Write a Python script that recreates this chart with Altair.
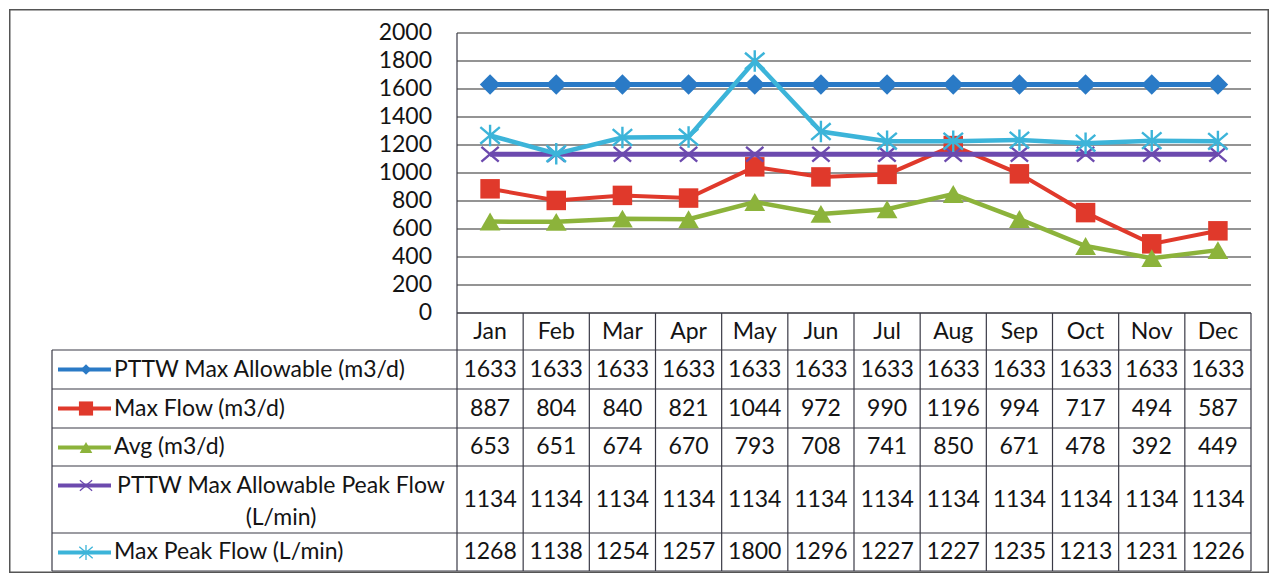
import altair as alt
import pandas as pd

# ---------------- data ----------------
months = ["Jan", "Feb", "Mar", "Apr", "May", "Jun", "Jul", "Aug", "Sep", "Oct", "Nov", "Dec"]
series_names = [
    "PTTW Max Allowable (m3/d)",
    "Max Flow (m3/d)",
    "Avg (m3/d)",
    "PTTW Max Allowable Peak Flow (L/min)",
    "Max Peak Flow (L/min)",
]
series_labels = [
    "PTTW Max Allowable (m3/d)",
    "Max Flow (m3/d)",
    "Avg (m3/d)",
    "PTTW Max Allowable Peak Flow\n(L/min)",
    "Max Peak Flow (L/min)",
]
pttw_max = [1633, 1633, 1633, 1633, 1633, 1633, 1633, 1633, 1633, 1633, 1633, 1633]
max_flow = [887, 804, 840, 821, 1044, 972, 990, 1196, 994, 717, 494, 587]
avg_flow = [653, 651, 674, 670, 793, 708, 741, 850, 671, 478, 392, 449]
pttw_peak = [1134, 1134, 1134, 1134, 1134, 1134, 1134, 1134, 1134, 1134, 1134, 1134]
max_peak = [1268, 1138, 1254, 1257, 1800, 1296, 1227, 1227, 1235, 1213, 1231, 1226]
series_values = [pttw_max, max_flow, avg_flow, pttw_peak, max_peak]
y_ticks = [0, 200, 400, 600, 800, 1000, 1200, 1400, 1600, 1800, 2000]

# ---------------- styles ----------------
X_PATH = "M-1,-0.85L1,0.85M-1,0.85L1,-0.85"
STAR_PATH = "M-1,-0.85L1,0.85M-1,0.85L1,-0.85M0,-1.1L0,1.1"
colors = ["#2A7AC6", "#E0392B", "#8CB33B", "#6C4AAE", "#3CB4D9"]
shapes = ["diamond", "square", "triangle-up", X_PATH, STAR_PATH]
filled = [True, True, True, False, False]
msize = [420, 380, 430, 300, 380]
mstroke = [1, 1, 1, 2.4, 2.4]
line_w = [5, 4, 4.5, 5, 4.5]
key_msize = [110, 200, 160, 150, 180]
key_stroke = [1, 1, 1, 1.3, 1.3]
FONT = "Lato"
FS = 23
TXT = "#141414"
GRID = "#2a2a2a"
TBL = "#3a3a46"

# ---------------- layout (px) ----------------
W = 1260
H1 = 304
H2 = 260
PLOT_L = 448
PLOT_R = 1242
Y2000_PX = 24
UNIT = (PLOT_R - PLOT_L) / 12.0


def u(px):
    return (px - PLOT_L) / UNIT


XMIN = u(0)
XMAX = u(W)
YMAX = 2000.0 * H1 / (H1 - Y2000_PX)
LEG_L = u(43)
KEY0 = u(49)
KEY1 = u(102)
KEYM = u(77)
LABEL_X = u(105)
LABEL_C = u(272)
row_h = [37, 39, 39, 38, 67, 38]
cum = [0]
for h in row_h:
    cum.append(cum[-1] + h)
FIRST_LINE = 19.5

xs = alt.Scale(domain=[XMIN, XMAX], nice=False, zero=False)
ys = alt.Scale(domain=[0, YMAX], nice=False, zero=False)
ts = alt.Scale(domain=[0, H2], nice=False, zero=False, reverse=True)

rows = []
for si, name in enumerate(series_names):
    for mi, m in enumerate(months):
        v = series_values[si][mi]
        rows.append({"series": name, "si": si, "month": m, "mi": mi, "value": v,
                     "x": mi + 0.5, "label": str(v)})
df = pd.DataFrame(rows)

one = pd.DataFrame({"a": [0]})

# ---------------- top chart ----------------
grid_df = pd.DataFrame({"tick": y_ticks, "x0": [0] * len(y_ticks), "x1": [12] * len(y_ticks),
                        "label": [str(t) for t in y_ticks]})
grid = alt.Chart(grid_df).mark_rule(color=GRID, strokeWidth=1.2).encode(
    x=alt.X("x0:Q", scale=xs, axis=None),
    x2="x1:Q",
    y=alt.Y("tick:Q", scale=ys, axis=None),
)
ylabels = alt.Chart(grid_df).mark_text(font=FONT, fontSize=FS, color=TXT, align="right",
                                       baseline="middle", dx=-25).encode(
    x=alt.X("x0:Q", scale=xs, axis=None),
    y=alt.Y("tick:Q", scale=ys, axis=None),
    text="label:N",
)
lb_df = pd.DataFrame({"x": [0], "y0": [0], "y1": [2000]})
left_border = alt.Chart(lb_df).mark_rule(color=TBL, strokeWidth=1.2).encode(
    x=alt.X("x:Q", scale=xs, axis=None),
    y=alt.Y("y0:Q", scale=ys, axis=None),
    y2="y1:Q",
)
frame_top = [
    alt.Chart(one).mark_rule(color="#555", strokeWidth=1.5).encode(
        x=alt.value(0.75), y=alt.value(0), y2=alt.value(H1)),
    alt.Chart(one).mark_rule(color="#555", strokeWidth=1.5).encode(
        x=alt.value(W - 0.75), y=alt.value(0), y2=alt.value(H1)),
    alt.Chart(one).mark_rule(color="#555", strokeWidth=1.5).encode(
        x=alt.value(0), x2=alt.value(W), y=alt.value(0.75)),
]

series_layers = []
for si in range(len(series_names)):
    sub = df[df["si"] == si]
    enc = dict(x=alt.X("x:Q", scale=xs, axis=None), y=alt.Y("value:Q", scale=ys, axis=None))
    series_layers.append(
        alt.Chart(sub).mark_line(color=colors[si], strokeWidth=line_w[si]).encode(**enc))
    series_layers.append(
        alt.Chart(sub).mark_point(shape=shapes[si], size=msize[si], filled=filled[si],
                                  color=colors[si], opacity=1,
                                  strokeWidth=mstroke[si]).encode(**enc))

top = alt.layer(grid, ylabels, left_border, *series_layers, *frame_top).properties(
    width=W, height=H1)

# ---------------- bottom table ----------------
h_rows = [{"x0": 0, "x1": 12, "y": cum[0]}]
for b in cum[1:]:
    h_rows.append({"x0": LEG_L, "x1": 12, "y": b})
hlines = alt.Chart(pd.DataFrame(h_rows)).mark_rule(color=TBL, strokeWidth=1.2).encode(
    x=alt.X("x0:Q", scale=xs, axis=None), x2="x1:Q",
    y=alt.Y("y:Q", scale=ts, axis=None))
v_rows = [{"x": i, "y0": cum[0], "y1": cum[-1]} for i in range(13)]
v_rows.append({"x": LEG_L, "y0": cum[1], "y1": cum[-1]})
vlines = alt.Chart(pd.DataFrame(v_rows)).mark_rule(color=TBL, strokeWidth=1.2).encode(
    x=alt.X("x:Q", scale=xs, axis=None),
    y=alt.Y("y0:Q", scale=ts, axis=None), y2="y1:Q")

hdr_df = pd.DataFrame({"month": months, "x": [i + 0.5 for i in range(12)],
                       "y": [(cum[0] + cum[1]) / 2] * 12})
hdr = alt.Chart(hdr_df).mark_text(font=FONT, fontSize=FS, color=TXT, align="center",
                                  baseline="middle").encode(
    x=alt.X("x:Q", scale=xs, axis=None), y=alt.Y("y:Q", scale=ts, axis=None), text="month:N")

df["ty"] = [(cum[si + 1] + cum[si + 2]) / 2 for si in df["si"]]
vals = alt.Chart(df).mark_text(font=FONT, fontSize=FS, color=TXT, align="center",
                               baseline="middle").encode(
    x=alt.X("x:Q", scale=xs, axis=None), y=alt.Y("ty:Q", scale=ts, axis=None), text="label:N")

lab_df = pd.DataFrame({
    "label": series_labels,
    "si": list(range(5)),
    "yc": [(cum[i + 1] + cum[i + 2]) / 2 for i in range(5)],
    "ykey": [cum[i + 1] + FIRST_LINE for i in range(5)],
    "xl": [LABEL_X] * 5,
    "xc": [LABEL_C] * 5,
    "k0": [KEY0] * 5,
    "k1": [KEY1] * 5,
    "km": [KEYM] * 5,
})
lab_df["multi"] = lab_df["label"].str.contains("\n")
labels_left = alt.Chart(lab_df[~lab_df["multi"]]).mark_text(
    font=FONT, fontSize=FS, color=TXT, align="left", baseline="middle").encode(
    x=alt.X("xl:Q", scale=xs, axis=None), y=alt.Y("yc:Q", scale=ts, axis=None), text="label:N")
labels_multi = alt.Chart(lab_df[lab_df["multi"]]).mark_text(
    font=FONT, fontSize=FS, color=TXT, align="center", baseline="middle",
    lineBreak="\n", lineHeight=32).encode(
    x=alt.X("xc:Q", scale=xs, axis=None), y=alt.Y("ykey:Q", scale=ts, axis=None), text="label:N")

key_layers = []
for si in range(5):
    sub = lab_df[lab_df["si"] == si]
    key_layers.append(alt.Chart(sub).mark_rule(color=colors[si], strokeWidth=4).encode(
        x=alt.X("k0:Q", scale=xs, axis=None), x2="k1:Q",
        y=alt.Y("ykey:Q", scale=ts, axis=None)))
    key_layers.append(alt.Chart(sub).mark_point(
        shape=shapes[si], size=key_msize[si], filled=filled[si], color=colors[si],
        opacity=1, strokeWidth=key_stroke[si]).encode(
        x=alt.X("km:Q", scale=xs, axis=None), y=alt.Y("ykey:Q", scale=ts, axis=None)))

frame_bottom = [
    alt.Chart(one).mark_rule(color="#555", strokeWidth=1.5).encode(
        x=alt.value(0.75), y=alt.value(0), y2=alt.value(H2)),
    alt.Chart(one).mark_rule(color="#555", strokeWidth=1.5).encode(
        x=alt.value(W - 0.75), y=alt.value(0), y2=alt.value(H2)),
    alt.Chart(one).mark_rule(color="#555", strokeWidth=1.5).encode(
        x=alt.value(0), x2=alt.value(W), y=alt.value(H2 - 0.75)),
]

bottom = alt.layer(hlines, vlines, hdr, vals, labels_left, labels_multi, *key_layers,
                   *frame_bottom).properties(width=W, height=H2)

chart = alt.vconcat(top, bottom, spacing=0).properties(
    padding=0, bounds="flush", background="white"
).configure_view(stroke=None)

chart.save("out.html", embed_options={"renderer": "svg", "actions": False})
